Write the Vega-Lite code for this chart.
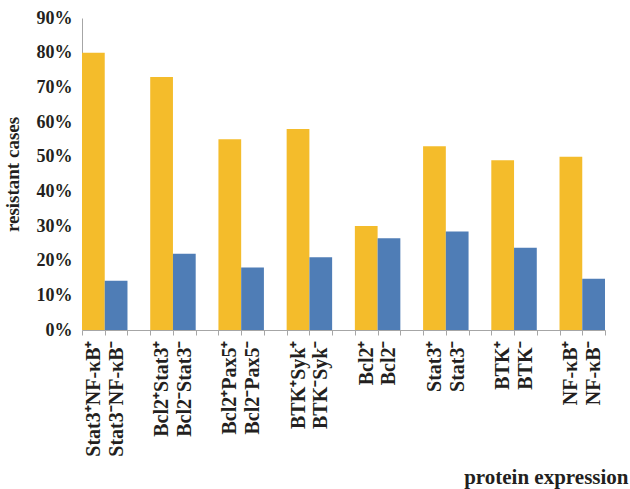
{
  "$schema": "https://vega.github.io/schema/vega-lite/v6.json",
  "autosize": "none",
  "width": 523,
  "height": 312,
  "padding": {"left": 82, "top": 18, "right": 25, "bottom": 159},
  "background": "white",
  "config": {
    "view": {"stroke": null},
    "font": "Liberation Serif",
    "axis": {"labelFont": "Liberation Serif", "titleFont": "Liberation Serif", "labelFontWeight": "bold", "titleFontWeight": "bold", "labelColor": "#231F20", "titleColor": "#231F20", "labelFontSize": 16, "titleFontSize": 19, "domainColor": "#A6A6A6", "tickColor": "#A6A6A6", "grid": false}
  },
  "data": {
    "values": [
      {"label": "Stat3⁺NF-κB⁺", "sign": "pos", "value": 0.80},
      {"label": "Stat3⁻NF-κB⁻", "sign": "neg", "value": 0.142},
      {"label": "Bcl2⁺Stat3⁺", "sign": "pos", "value": 0.73},
      {"label": "Bcl2⁻Stat3⁻", "sign": "neg", "value": 0.22},
      {"label": "Bcl2⁺Pax5⁺", "sign": "pos", "value": 0.55},
      {"label": "Bcl2⁻Pax5⁻", "sign": "neg", "value": 0.18},
      {"label": "BTK⁺Syk⁺", "sign": "pos", "value": 0.58},
      {"label": "BTK⁻Syk⁻", "sign": "neg", "value": 0.21},
      {"label": "Bcl2⁺", "sign": "pos", "value": 0.30},
      {"label": "Bcl2⁻", "sign": "neg", "value": 0.265},
      {"label": "Stat3⁺", "sign": "pos", "value": 0.53},
      {"label": "Stat3⁻", "sign": "neg", "value": 0.284},
      {"label": "BTK⁺", "sign": "pos", "value": 0.49},
      {"label": "BTK⁻", "sign": "neg", "value": 0.237},
      {"label": "NF-κB⁺", "sign": "pos", "value": 0.50},
      {"label": "NF-κB⁻", "sign": "neg", "value": 0.148}
    ]
  },
  "mark": {"type": "bar", "stroke": null},
  "encoding": {
    "x": {
      "field": "label",
      "type": "nominal",
      "scale": {
        "domain": ["Stat3⁺NF-κB⁺", "Stat3⁻NF-κB⁻", "gap1", "Bcl2⁺Stat3⁺", "Bcl2⁻Stat3⁻", "gap2", "Bcl2⁺Pax5⁺", "Bcl2⁻Pax5⁻", "gap3", "BTK⁺Syk⁺", "BTK⁻Syk⁻", "gap4", "Bcl2⁺", "Bcl2⁻", "gap5", "Stat3⁺", "Stat3⁻", "gap6", "BTK⁺", "BTK⁻", "gap7", "NF-κB⁺", "NF-κB⁻"],
        "paddingInner": 0,
        "paddingOuter": 0
      },
      "axis": {
        "title": "protein expression",
        "titleFontSize": 21,
        "labelAngle": -90,
        "labelFontSize": 20,
        "labelExpr": "indexof(datum.label, 'gap') == 0 ? '' : datum.label",
        "tickBand": "extent",
        "tickSize": 5,
        "labelPadding": 5,
        "titleAnchor": "end",
        "titleAlign": "right",
        "titleBaseline": "alphabetic",
        "titleX": 546,
        "titleY": 153
      }
    },
    "y": {
      "field": "value",
      "type": "quantitative",
      "scale": {"domain": [0, 0.9], "nice": false},
      "axis": {
        "title": "resistant cases",
        "format": ".0%",
        "labelFontSize": 18,
        "values": [0, 0.1, 0.2, 0.3, 0.4, 0.5, 0.6, 0.7, 0.8, 0.9],
        "ticks": false,
        "labelPadding": 10,
        "titleAngle": -90,
        "titleAlign": "center",
        "titleBaseline": "middle",
        "titleX": -70,
        "titleY": 156
      }
    },
    "color": {
      "field": "sign",
      "type": "nominal",
      "scale": {"domain": ["pos", "neg"], "range": ["#F4BC2B", "#4F7DB6"]},
      "legend": null
    }
  }
}
